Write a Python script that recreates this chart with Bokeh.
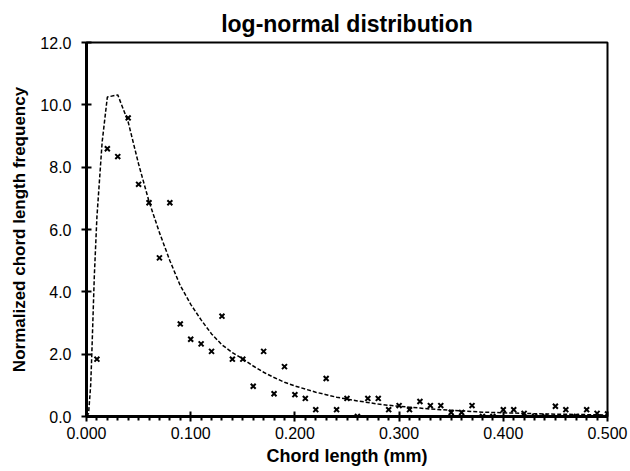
from bokeh.plotting import figure
from bokeh.models import FixedTicker, Range1d, NumeralTickFormatter
from bokeh.embed import file_html
from bokeh.resources import INLINE

# measured data: chord length (mm) and normalized frequency
chord_mm = [0.01, 0.02, 0.03, 0.04, 0.05, 0.06, 0.07, 0.08, 0.09, 0.10,
            0.11, 0.12, 0.13, 0.14, 0.15, 0.16, 0.17, 0.18, 0.19, 0.20,
            0.21, 0.22, 0.23, 0.24, 0.25, 0.26, 0.27, 0.28, 0.29, 0.30,
            0.31, 0.32, 0.33, 0.34, 0.35, 0.36, 0.37, 0.38, 0.39, 0.40,
            0.41, 0.42, 0.43, 0.44, 0.45, 0.46, 0.47, 0.48, 0.49, 0.50]
frequency = [1.84, 8.59, 8.34, 9.58, 7.45, 6.86, 5.09, 6.86, 2.97, 2.48,
             2.33, 2.09, 3.22, 1.84, 1.84, 0.97, 2.09, 0.73, 1.60, 0.70,
             0.58, 0.22, 1.22, 0.22, 0.58, 0.00, 0.58, 0.58, 0.22, 0.35,
             0.22, 0.48, 0.35, 0.35, 0.13, 0.13, 0.35, 0.00, 0.00, 0.22,
             0.22, 0.10, 0.00, 0.00, 0.33, 0.22, 0.00, 0.22, 0.10, 0.08]

# log-normal fit curve
fit_x = [0.0, 0.002, 0.004, 0.005, 0.0075, 0.01, 0.015, 0.02,
         0.03, 0.04, 0.05, 0.06, 0.07, 0.08, 0.09, 0.10,
         0.11, 0.12, 0.13, 0.14, 0.15, 0.16, 0.17, 0.18, 0.19, 0.20,
         0.21, 0.22, 0.23, 0.24, 0.25, 0.26, 0.27, 0.28, 0.29, 0.30,
         0.31, 0.32, 0.33, 0.34, 0.35, 0.36, 0.37, 0.38, 0.39, 0.40,
         0.41, 0.42, 0.43, 0.44, 0.45, 0.46, 0.47, 0.48, 0.49, 0.50]
fit_y = [0.0, 0.1, 1.0, 1.9, 4.5, 6.4, 8.8, 10.25,
         10.32, 9.45, 8.1, 6.9, 5.9, 5.0, 4.2, 3.6,
         3.1, 2.65, 2.3, 2.05, 1.85, 1.62, 1.42, 1.25, 1.1, 0.98,
         0.88, 0.78, 0.7, 0.62, 0.56, 0.5, 0.45, 0.4, 0.36, 0.33,
         0.3, 0.27, 0.24, 0.22, 0.2, 0.18, 0.16, 0.14, 0.13, 0.12,
         0.11, 0.1, 0.09, 0.08, 0.075, 0.07, 0.065, 0.06, 0.055, 0.05]

x_major = [0.0, 0.1, 0.2, 0.3, 0.4, 0.5]
x_minor = [0.01, 0.02, 0.03, 0.04, 0.05, 0.06, 0.07, 0.08, 0.09, 0.11, 0.12, 0.13,
           0.14, 0.15, 0.16, 0.17, 0.18, 0.19, 0.21, 0.22, 0.23, 0.24, 0.25, 0.26,
           0.27, 0.28, 0.29, 0.31, 0.32, 0.33, 0.34, 0.35, 0.36, 0.37, 0.38, 0.39,
           0.41, 0.42, 0.43, 0.44, 0.45, 0.46, 0.47, 0.48, 0.49]
y_major = [0, 2, 4, 6, 8, 10, 12]

FONT = "Liberation Sans"

p = figure(width=630, height=471, output_backend="svg", toolbar_location=None,
           x_range=Range1d(0, 0.5), y_range=Range1d(0, 12),
           min_border_left=86, min_border_right=23, min_border_top=42, min_border_bottom=55)

p.title.text = "log-normal distribution"
p.title.align = "center"
p.title.text_font = FONT
p.title.text_font_size = "23px"
p.title.text_font_style = "bold"
p.title.text_color = "black"
p.title.offset = 0
p.title.standoff = 11

p.grid.visible = False
p.outline_line_color = "black"
p.outline_line_width = 2
p.background_fill_color = "white"
p.border_fill_color = "white"

p.line(fit_x, fit_y, line_color="black", line_width=1.5, line_dash="4 2")
p.scatter(chord_mm, frequency, marker="x", size=7, line_color="black", line_width=2)

xa = p.xaxis[0]
xa.ticker = FixedTicker(ticks=x_major, minor_ticks=x_minor)
xa.formatter = NumeralTickFormatter(format="0.000")
xa.axis_label = "Chord length (mm)"
xa.axis_line_width = 3
xa.major_tick_line_width = 2
xa.major_tick_in = 5
xa.major_tick_out = 5
xa.minor_tick_line_width = 2
xa.minor_tick_in = 0
xa.minor_tick_out = 4
xa.major_label_standoff = 5

ya = p.yaxis[0]
ya.ticker = FixedTicker(ticks=y_major)
ya.formatter = NumeralTickFormatter(format="0.0")
ya.axis_label = "Normalized chord length frequency"
ya.axis_line_width = 3
ya.major_tick_line_width = 2
ya.major_tick_in = 5
ya.major_tick_out = 5
ya.minor_tick_line_color = None
ya.major_label_standoff = 10

for ax in (xa, ya):
    ax.major_label_text_font = FONT
    ax.major_label_text_font_size = "16px"
    ax.major_label_text_color = "black"
    ax.axis_label_text_font = FONT
    ax.axis_label_text_font_style = "bold"
    ax.axis_label_text_color = "black"
    ax.axis_line_color = "black"
    ax.major_tick_line_color = "black"
xa.axis_label_text_font_size = "18px"
ya.axis_label_text_font_size = "17px"
xa.axis_label_standoff = 4
ya.axis_label_standoff = 8

open("out.html", "w").write(file_html(p, INLINE))
